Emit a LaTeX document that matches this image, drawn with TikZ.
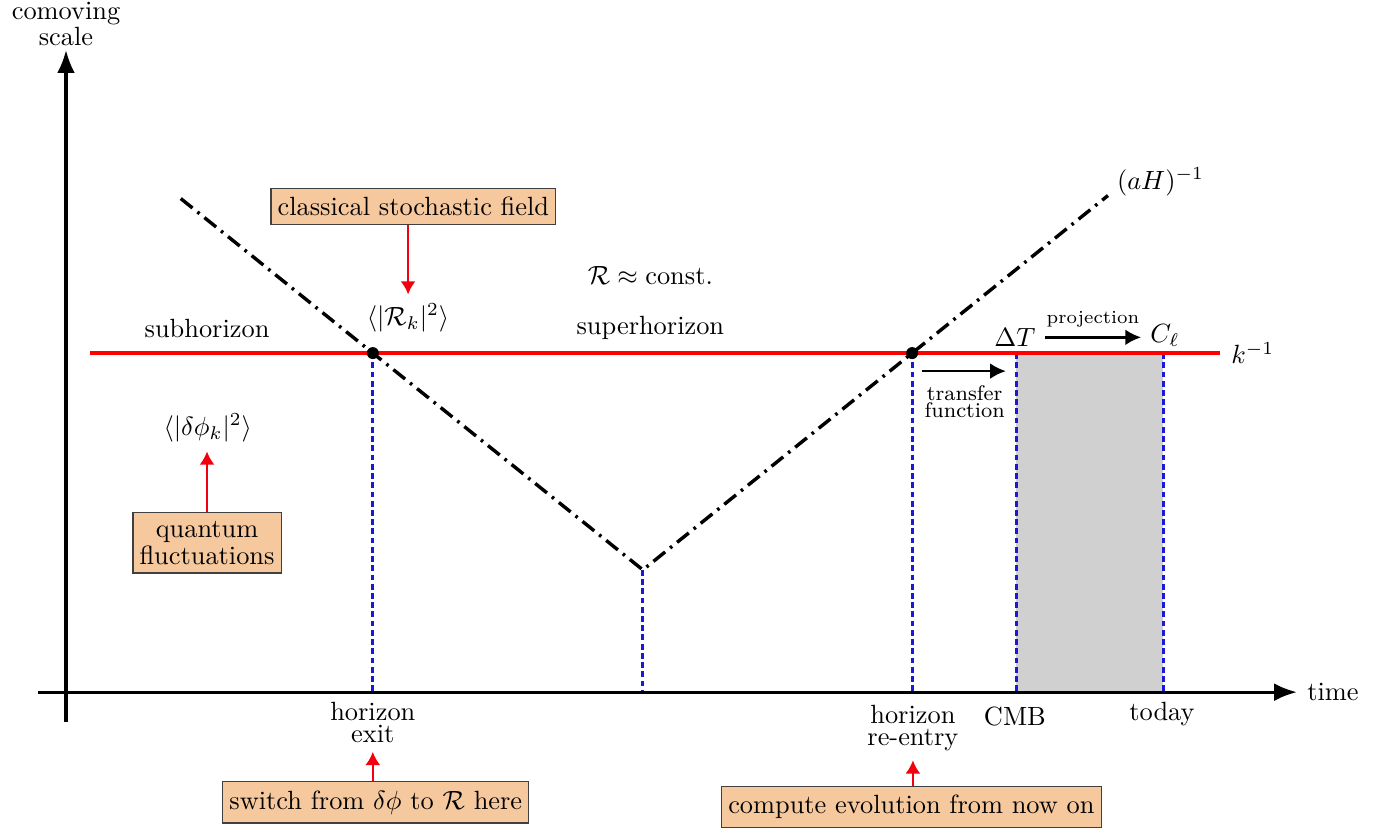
\documentclass[tikz,border=0pt]{standalone}
\usetikzlibrary{arrows.meta}
\definecolor{peach}{RGB}{246,200,158}
\definecolor{cmbgray}{RGB}{208,208,208}
\definecolor{dashblue}{RGB}{25,25,215}
\tikzset{
  infobox/.style={draw=black!75,fill=peach,align=center,inner ysep=3.3pt,inner xsep=2.5pt,font=\linespread{0.7}\selectfont},
  twoline/.style={align=center,font=\linespread{0.7}\selectfont},
  horizonline/.style={dashblue,line width=1.2pt,dash pattern=on 2.2pt off 1.3pt},
  hubble/.style={line width=1.3pt,dash pattern=on 5.7pt off 2.4pt on 1pt off 2.4pt},
  pointer/.style={-{Latex[length=5pt,width=5.7pt]},red!95!blue,line width=0.9pt},
  step arrow/.style={-{Latex[length=6pt,width=6pt]},line width=1pt},
}
\begin{document}
\begin{tikzpicture}[>={Latex[length=8.7pt,width=6.8pt]}]
\useasboundingbox (-0.88,-1.867) rectangle (17.61,9.227);
\coordinate (O) at (0,0);
% points where the scales meet
\coordinate (start) at (1.53,6.58);
\coordinate (exit) at (4.09,4.52);
\coordinate (bottom) at (7.69,1.63);
\coordinate (reentry) at (11.28,4.52);
\coordinate (end) at (13.89,6.62);
\coordinate (cmb) at (12.67,4.52);
\coordinate (today) at (14.63,4.52);

% CMB to today
\fill[cmbgray] (cmb) rectangle (today |- O);

\draw[horizonline] (exit) -- (exit |- O);
\draw[horizonline] (bottom) -- (bottom |- O);
\draw[horizonline] (reentry) -- (reentry |- O);
\draw[horizonline] (cmb) -- (cmb |- O);
\draw[horizonline] (today) -- (today |- O);

% k^{-1} and (aH)^{-1}
\draw[red,line width=1.6pt] (0.32,4.52) -- (15.39,4.52) node[right,black] (kinv) {$k^{-1}$};
\draw[hubble] (start) -- (exit) -- (bottom) -- (reentry) -- (end);
\fill (exit) circle (0.08);
\fill (reentry) circle (0.08);
\node (aH) at (14.59,6.8) {$(aH)^{-1}$};

% axes
\draw[->,line width=1.2pt] (-0.37,0) -- (16.41,0) node[right] (time) {time};
\draw[->,line width=1.2pt] (0,-0.40) -- (0,8.56);
\node[twoline] (scale) at (0,8.91) {comoving\\scale};

\node (sub) at (1.88,4.85) {subhorizon};
\node (super) at (7.79,4.85) {superhorizon};
\node (const) at (7.79,5.55) {$\mathcal{R}\approx\mathrm{const.}$};
\node (Rk) at (4.56,4.99) {$\langle|\mathcal{R}_k|^2\rangle$};
\node (dphi) at (1.89,3.52) {$\langle|\delta\phi_k|^2\rangle$};

\node[infobox] (cls) at (4.63,6.47) {classical stochastic field};
\node[infobox] (qf) at (1.88,1.99) {quantum\\fluctuations};
\draw[pointer] (cls.south -| Rk.north) -- (Rk.north);
\draw[pointer] (qf.north) -- (qf.north |- dphi.south);

% time axis labels
\node[twoline] (exitlbl) at (4.09,-0.40) {horizon\\exit};
\node[twoline] (reentrylbl) at (11.29,-0.48) {horizon\\re-entry};
\node (cmblbl) at (12.65,-0.32) {CMB};
\node (todaylbl) at (14.61,-0.29) {today};

\node[infobox] (sw) at (4.13,-1.47) {switch from $\delta\phi$ to $\mathcal{R}$ here};
\node[infobox] (cmp) at (11.27,-1.53) {compute evolution from now on};
\draw[pointer] (sw.north -| exitlbl.south) -- (exitlbl.south);
\draw[pointer] (cmp.north -| reentrylbl.south) -- (reentrylbl.south);

% transfer and projection
\coordinate (tfa) at (11.41,4.28);
\coordinate (tfb) at (12.53,4.28);
\draw[step arrow] (tfa) -- (tfb);
\node[twoline,font=\footnotesize\linespread{0.7}\selectfont] (tf) at (11.98,3.87) {transfer\\function};
\node (DT) at (12.65,4.73) {$\Delta T$};
\node (Cl) at (14.65,4.76) {$C_\ell$};
\draw[step arrow] (DT.east) -- (Cl.west |- DT.east) node[midway,above,font=\scriptsize] (proj) {projection};
\end{tikzpicture}
\end{document}
